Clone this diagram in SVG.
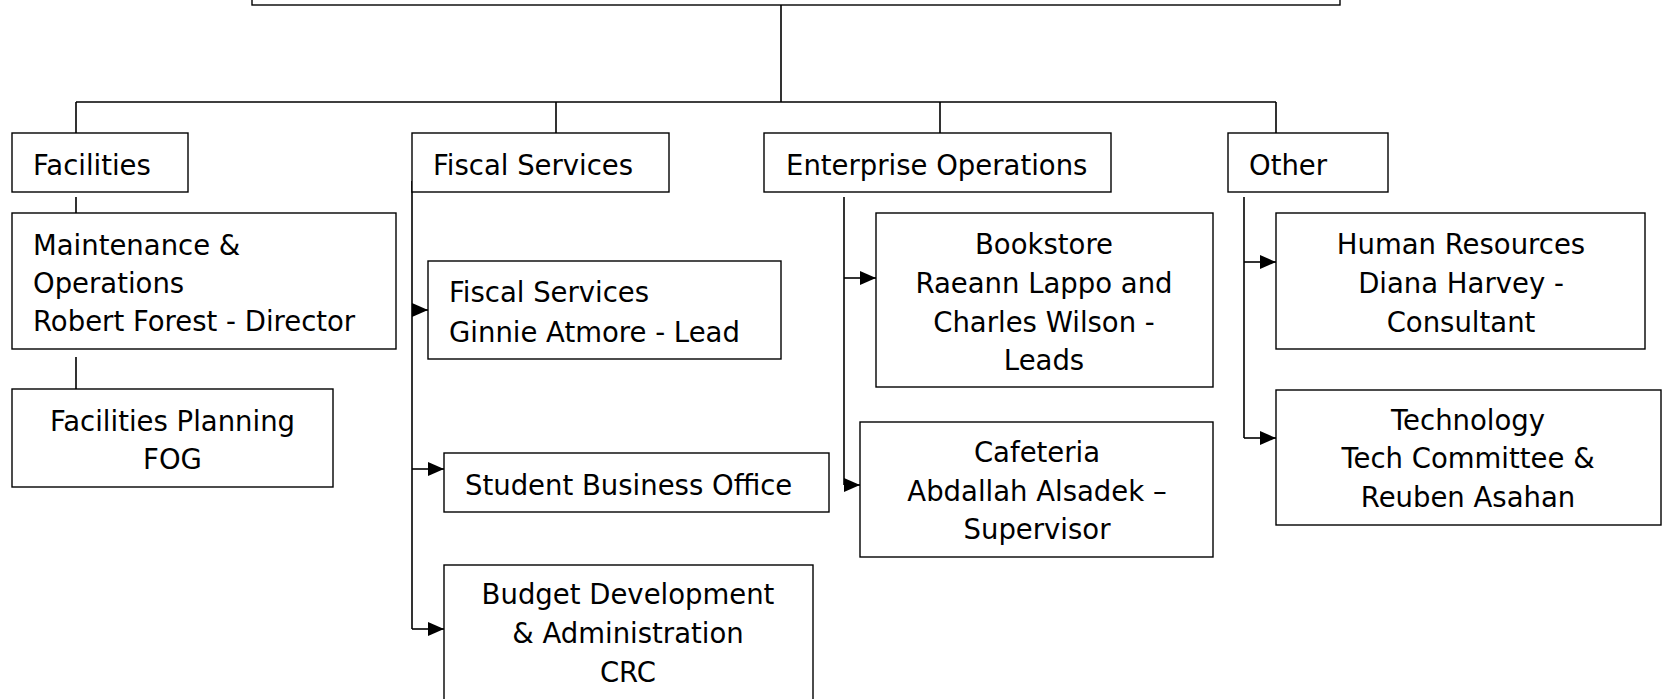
<svg xmlns="http://www.w3.org/2000/svg" width="1666" height="699" viewBox="0 0 1666 699">
<style>
.box{fill:#fff;stroke:#000;stroke-width:1.4}
.ln{fill:none;stroke:#000;stroke-width:1.6}
text{font-family:"DejaVu Sans","Liberation Sans",sans-serif;font-size:27.5px;fill:#000}
.m{text-anchor:middle}
</style>
<defs>
<marker id="ah" markerUnits="userSpaceOnUse" markerWidth="16" markerHeight="14" refX="16" refY="7" orient="auto">
<path d="M0,0 L16,7 L0,14 z" fill="#000"/>
</marker>
</defs>
<rect width="1666" height="699" fill="#fff"/>
<g id="connectors">
<path class="ln" d="M781,5 V102 M76,102 H1276 M76,102 V133 M556,102 V133 M940,102 V133 M1276,102 V133"/>
<path class="ln" d="M76,197 V213 M76,357 V389"/>
<path class="ln" d="M412,181 V629"/>
<path class="ln" d="M412,310 H428" marker-end="url(#ah)"/>
<path class="ln" d="M412,469 H444" marker-end="url(#ah)"/>
<path class="ln" d="M412,629 H444" marker-end="url(#ah)"/>
<path class="ln" d="M844,197 V485"/>
<path class="ln" d="M844,278 H876" marker-end="url(#ah)"/>
<path class="ln" d="M844,485 H860" marker-end="url(#ah)"/>
<path class="ln" d="M1244,197 V438"/>
<path class="ln" d="M1244,262 H1276" marker-end="url(#ah)"/>
<path class="ln" d="M1244,438 H1276" marker-end="url(#ah)"/>
</g>
<g id="top"><rect class="box" x="252" y="-20" width="1088" height="25"/></g>
<g id="facilities"><rect class="box" x="12" y="133" width="176" height="59"/><text x="33" y="175">Facilities</text></g>
<g id="fiscal"><rect class="box" x="412" y="133" width="257" height="59"/><text x="433" y="175">Fiscal Services</text></g>
<g id="enterprise"><rect class="box" x="764" y="133" width="347" height="59"/><text x="786" y="175">Enterprise Operations</text></g>
<g id="other"><rect class="box" x="1228" y="133" width="160" height="59"/><text x="1249" y="175">Other</text></g>
<g id="maintenance"><rect class="box" x="12" y="213" width="384" height="136"/>
<text x="33" y="255">Maintenance &amp;</text><text x="33" y="293">Operations</text><text x="33" y="331">Robert Forest - Director</text></g>
<g id="planning"><rect class="box" x="12" y="389" width="321" height="98"/>
<text class="m" x="172.5" y="431">Facilities Planning</text><text class="m" x="172.5" y="469">FOG</text></g>
<g id="fiscal-lead"><rect class="box" x="428" y="261" width="353" height="98"/>
<text x="449" y="302">Fiscal Services</text><text x="449" y="342">Ginnie Atmore - Lead</text></g>
<g id="sbo"><rect class="box" x="444" y="453" width="385" height="59"/><text x="465" y="495">Student Business Office</text></g>
<g id="budget"><rect class="box" x="444" y="565" width="369" height="160"/>
<text class="m" x="628" y="604">Budget Development</text><text class="m" x="628" y="643">&amp; Administration</text><text class="m" x="628" y="682">CRC</text></g>
<g id="bookstore"><rect class="box" x="876" y="213" width="337" height="174"/>
<text class="m" x="1044" y="254">Bookstore</text><text class="m" x="1044" y="293">Raeann Lappo and</text><text class="m" x="1044" y="332">Charles Wilson -</text><text class="m" x="1044" y="370">Leads</text></g>
<g id="cafeteria"><rect class="box" x="860" y="422" width="353" height="135"/>
<text class="m" x="1037" y="462">Cafeteria</text><text class="m" x="1037" y="501">Abdallah Alsadek –</text><text class="m" x="1037" y="539">Supervisor</text></g>
<g id="hr"><rect class="box" x="1276" y="213" width="369" height="136"/>
<text class="m" x="1461" y="254">Human Resources</text><text class="m" x="1461" y="293">Diana Harvey -</text><text class="m" x="1461" y="332">Consultant</text></g>
<g id="technology"><rect class="box" x="1276" y="390" width="385" height="135"/>
<text class="m" x="1468" y="430">Technology</text><text class="m" x="1468" y="468">Tech Committee &amp;</text><text class="m" x="1468" y="507">Reuben Asahan</text></g>
</svg>
